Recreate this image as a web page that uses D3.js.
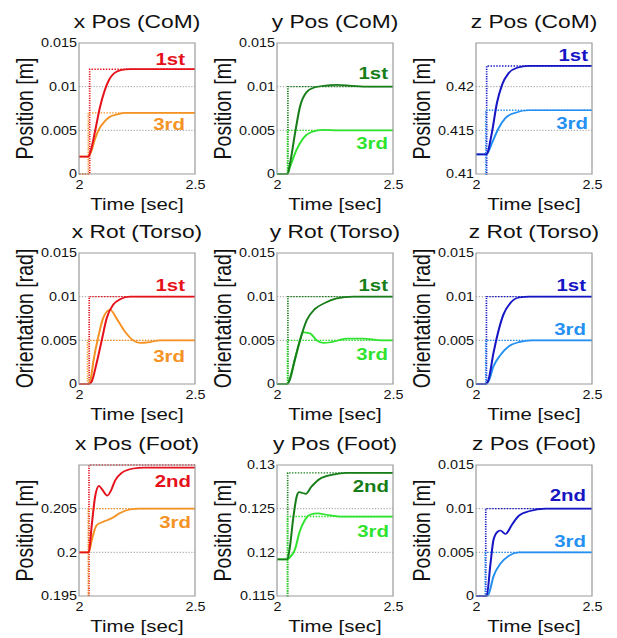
<!DOCTYPE html>
<html>
<head>
<meta charset="utf-8">
<script src="https://cdn.jsdelivr.net/npm/d3@7"></script>
<style>
  html, body { margin: 0; padding: 0; background: #fff; }
  text { font-family: "Liberation Sans", Arial, Helvetica, sans-serif; fill: #111; }
</style>
</head>
<body>
<div id="chart"></div>
<script>
// ---- data ----
var titles = ["x Pos (CoM)", "y Pos (CoM)", "z Pos (CoM)",
              "x Rot (Torso)", "y Rot (Torso)", "z Rot (Torso)",
              "x Pos (Foot)", "y Pos (Foot)", "z Pos (Foot)"];
var yLabels = ["Position [m]", "Position [m]", "Position [m]",
               "Orientation [rad]", "Orientation [rad]", "Orientation [rad]",
               "Position [m]", "Position [m]", "Position [m]"];
var seriesNames = [["1st", "3rd"], ["1st", "3rd"], ["1st", "3rd"],
                   ["1st", "3rd"], ["1st", "3rd"], ["1st", "3rd"],
                   ["2nd", "3rd"], ["2nd", "3rd"], ["2nd", "3rd"]];
var xDomain = [2, 2.5];
var xTicks = [2, 2.5];
var yDomains = [[0, 0.015], [0, 0.015], [0.41, 0.425],
                [0, 0.015], [0, 0.015], [0, 0.015],
                [0.195, 0.21], [0.115, 0.13], [0, 0.015]];
var yTicks = [[0, 0.005, 0.01, 0.015], [0, 0.005, 0.01, 0.015], [0.41, 0.415, 0.42],
              [0, 0.005, 0.01, 0.015], [0, 0.005, 0.01, 0.015], [0, 0.005, 0.01, 0.015],
              [0.195, 0.2, 0.205], [0.115, 0.12, 0.125, 0.13], [0, 0.005, 0.01, 0.015]];

// reference steps: [step time, target] for each series (value is 0 before the step)
var refSteps = [
  [[2.046, 0.012], [2.04, 0.007]],
  [[2.047, 0.01], [2.045, 0.005]],
  [[2.046, 0.42237], [2.042, 0.4173]],
  [[2.044, 0.01], [2.037, 0.005]],
  [[2.047, 0.01], [2.045, 0.005]],
  [[2.045, 0.01], [2.042, 0.005]],
  [[2.043, 0.21], [2.04, 0.205]],
  [[2.046, 0.1291], [2.045, 0.1241]],
  [[2.042, 0.01], [2.04, 0.005]]
];

// responses [time, value]
var xPosCoM1st = [[2,0.002],[2.04,0.002],[2.05,0.0026],[2.07,0.005],[2.09,0.0076],[2.11,0.0095],[2.13,0.0108],[2.15,0.0115],[2.18,0.0119],[2.22,0.012],[2.5,0.012]];
var xPosCoM3rd = [[2,0.002],[2.04,0.002],[2.05,0.0024],[2.07,0.0041],[2.09,0.0053],[2.11,0.006],[2.13,0.0065],[2.16,0.0068],[2.2,0.007],[2.5,0.007]];
var yPosCoM1st = [[2,0],[2.045,0],[2.056,0.0012],[2.078,0.0047],[2.099,0.0077],[2.128,0.0094],[2.16,0.0099],[2.2,0.0101],[2.26,0.0102],[2.32,0.0101],[2.4,0.01],[2.5,0.01]];
var yPosCoM3rd = [[2,0],[2.045,0],[2.056,0.0008],[2.085,0.0028],[2.113,0.0041],[2.149,0.0048],[2.2,0.00505],[2.26,0.005],[2.5,0.005]];
var zPosCoM1st = [[2,0.41225],[2.045,0.41225],[2.068,0.41466],[2.09,0.4181],[2.112,0.4202],[2.14,0.42153],[2.177,0.42217],[2.227,0.42237],[2.5,0.42237]];
var zPosCoM3rd = [[2,0.41225],[2.045,0.41225],[2.068,0.41351],[2.097,0.41523],[2.126,0.41638],[2.17,0.41702],[2.227,0.4173],[2.5,0.4173]];
var xRotTorso1st = [[2,0],[2.044,0],[2.055,0.0003],[2.076,0.0024],[2.098,0.005],[2.119,0.0075],[2.148,0.0091],[2.177,0.0097],[2.22,0.01],[2.5,0.01]];
var xRotTorso3rd = [[2,0],[2.038,0],[2.05,0.0005],[2.062,0.0026],[2.083,0.0054],[2.105,0.0076],[2.134,0.0085],[2.162,0.0075],[2.198,0.006],[2.234,0.005],[2.263,0.0047],[2.306,0.0048],[2.35,0.005],[2.5,0.005]];
var yRotTorso1st = [[2,0],[2.045,0],[2.055,0.0005],[2.077,0.0028],[2.099,0.005],[2.128,0.0073],[2.164,0.0086],[2.2,0.0092],[2.257,0.0098],[2.328,0.01],[2.5,0.01]];
var yRotTorso3rd = [[2,0],[2.045,0],[2.055,0.0006],[2.077,0.0028],[2.096,0.0047],[2.113,0.0059],[2.142,0.0058],[2.171,0.005],[2.2,0.0047],[2.235,0.0048],[2.3,0.0052],[2.37,0.0052],[2.45,0.005],[2.5,0.005]];
var zRotTorso1st = [[2,0],[2.043,0],[2.054,0.0005],[2.075,0.0035],[2.097,0.0061],[2.119,0.008],[2.149,0.0093],[2.185,0.0099],[2.23,0.01],[2.5,0.01]];
var zRotTorso3rd = [[2,0],[2.043,0],[2.054,0.0003],[2.075,0.002],[2.105,0.0033],[2.141,0.0043],[2.185,0.0048],[2.24,0.005],[2.5,0.005]];
var xPosFoot2nd = [[2,0.2],[2.042,0.2],[2.055,0.2031],[2.069,0.2063],[2.086,0.2076],[2.1,0.2072],[2.122,0.2065],[2.14,0.2072],[2.155,0.2082],[2.184,0.2091],[2.234,0.2096],[2.28,0.2097],[2.5,0.2097]];
var xPosFoot3rd = [[2,0.2],[2.042,0.2],[2.055,0.2014],[2.076,0.2031],[2.105,0.2035],[2.141,0.2039],[2.177,0.2045],[2.22,0.2049],[2.26,0.205],[2.5,0.205]];
var yPosFoot2nd = [[2,0.1192],[2.045,0.1192],[2.055,0.1205],[2.07,0.1239],[2.084,0.1263],[2.095,0.1269],[2.11,0.1268],[2.124,0.1267],[2.148,0.1275],[2.184,0.1284],[2.241,0.1289],[2.3,0.1291],[2.5,0.1291]];
var yPosFoot3rd = [[2,0.1192],[2.045,0.1192],[2.055,0.1194],[2.077,0.1203],[2.098,0.1224],[2.12,0.1237],[2.142,0.1243],[2.177,0.12445],[2.213,0.1243],[2.27,0.1241],[2.5,0.1241]];
var zPosFoot2nd = [[2,0],[2.046,0],[2.062,0.0036],[2.076,0.0065],[2.095,0.0074],[2.105,0.0075],[2.127,0.0071],[2.156,0.0082],[2.185,0.0092],[2.228,0.0097],[2.3,0.01],[2.5,0.01]];
var zPosFoot3rd = [[2,0],[2.046,0],[2.054,0.0002],[2.076,0.0023],[2.105,0.0037],[2.141,0.0046],[2.185,0.005],[2.5,0.005]];

var responses = [
  [xPosCoM1st, xPosCoM3rd], [yPosCoM1st, yPosCoM3rd], [zPosCoM1st, zPosCoM3rd],
  [xRotTorso1st, xRotTorso3rd], [yRotTorso1st, yRotTorso3rd], [zRotTorso1st, zRotTorso3rd],
  [xPosFoot2nd, xPosFoot3rd], [yPosFoot2nd, yPosFoot3rd], [zPosFoot2nd, zPosFoot3rd]
];

// ---- layout / style ----
var width = 617, height = 638;
var sx = 1.2;                       // the figure is stretched horizontally
var colLeft = [79, 277, 476];       // screen px
var rowTop = [43, 253, 465];
var plotW = 116, plotH = 131;
var colColors = [["#e5121c", "#f59224"], ["#177d19", "#2fe32f"], ["#1515c4", "#2390f2"]];
// where the series labels sit (in data units) and how far from the right edge
var labelAt = [[0.01313, 0.00573], [0.0116, 0.00351], [0.42363, 0.4158],
               [0.01134, 0.0032], [0.01134, 0.0035], [0.01134, 0.00633],
               [0.20817, 0.20345], [0.12758, 0.12245], [0.01154, 0.00635]];
var labelInset = [10, 5, 4, 10, 5, 6, 4, 4, 6];

var svg = d3.select("#chart")
  .append("svg")
  .attr("width", width)
  .attr("height", height);

var root = svg.append("g").attr("transform", "scale(" + sx + ",1)");
var defs = svg.append("defs");

var line = d3.line().x(function(d) { return d.x; }).y(function(d) { return d.y; });

titles.forEach(function(title, i) {
  var col = i % 3, row = Math.floor(i / 3);
  var L = colLeft[col] / sx, T = rowTop[row];
  var w = plotW / sx, h = plotH;

  var x = d3.scaleLinear().domain(xDomain).range([L, L + w]);
  var y = d3.scaleLinear().domain(yDomains[i]).range([T + h, T]);

  var g = root.append("g");

  defs.append("clipPath").attr("id", "clip" + i)
    .append("rect").attr("x", L).attr("y", T - 1).attr("width", w).attr("height", h + 2);

  // dotted horizontal grid at inner ticks
  g.selectAll(".grid")
    .data(yTicks[i].filter(function(v) { return v > yDomains[i][0] && v < yDomains[i][1]; }))
    .enter().append("line")
    .attr("x1", L).attr("x2", L + w)
    .attr("y1", function(v) { return y(v); })
    .attr("y2", function(v) { return y(v); })
    .style("stroke", "#8c8c8c")
    .style("stroke-width", 0.8)
    .style("stroke-dasharray", "1,1.4");

  var plot = g.append("g").attr("clip-path", "url(#clip" + i + ")");

  // dotted reference steps
  refSteps[i].forEach(function(s, k) {
    var pts = [[xDomain[0], 0], [s[0], 0], [s[0], s[1]], [xDomain[1], s[1]]];
    plot.append("path")
      .attr("d", line.curve(d3.curveLinear)(pts.map(function(p) { return { x: x(p[0]), y: y(p[1]) }; })))
      .style("fill", "none")
      .style("stroke", colColors[col][k])
      .style("stroke-width", 1.4)
      .style("stroke-dasharray", "1.2,1.2");
  });

  // responses (3rd drawn first so the other sits on top)
  [1, 0].forEach(function(k) {
    plot.append("path")
      .attr("d", line.curve(d3.curveMonotoneX)(responses[i][k].map(function(p) { return { x: x(p[0]), y: y(p[1]) }; })))
      .style("fill", "none")
      .style("stroke", colColors[col][k])
      .style("stroke-width", 1.7);
  });

  // box
  g.append("rect")
    .attr("x", L).attr("y", T).attr("width", w).attr("height", h)
    .style("fill", "none")
    .style("stroke", "#9a9a9a")
    .style("stroke-width", 1);

  // axes (labels only)
  var yAxis = g.append("g")
    .attr("transform", "translate(" + L + ",0)")
    .call(d3.axisLeft(y).tickValues(yTicks[i]).tickSize(0).tickPadding(1.6)
      .tickFormat(function(d) { return String(d); }));
  var xAxis = g.append("g")
    .attr("transform", "translate(0," + (T + h) + ")")
    .call(d3.axisBottom(x).tickValues(xTicks).tickSize(0).tickPadding(6.5)
      .tickFormat(function(d) { return String(d); }));
  [yAxis, xAxis].forEach(function(a) {
    a.select(".domain").remove();
    a.attr("font-family", null).attr("font-size", null);
    a.selectAll("text").style("font-size", "12px").style("fill", "#111");
  });

  // titles and axis labels
  g.append("text")
    .attr("x", L + w / 2).attr("y", T - 15)
    .attr("text-anchor", "middle")
    .style("font-size", "19px")
    .text(title);

  g.append("text")
    .attr("x", L + w / 2).attr("y", T + h + 36.5)
    .attr("text-anchor", "middle")
    .style("font-size", "17px")
    .text("Time [sec]");

  g.append("text")
    .attr("transform", "translate(" + (L - 46.5 / sx) + "," + (T + h / 2) + ") rotate(-90)")
    .attr("text-anchor", "middle")
    .style("font-size", "19.5px")
    .text(yLabels[i]);

  // series labels
  seriesNames[i].forEach(function(name, k) {
    g.append("text")
      .attr("x", L + w - labelInset[i] / sx)
      .attr("y", y(labelAt[i][k]))
      .attr("dy", "0.36em")
      .attr("text-anchor", "end")
      .style("font-size", "17px")
      .style("font-weight", "bold")
      .style("fill", colColors[col][k])
      .text(name);
  });
});
</script>
</body>
</html>
